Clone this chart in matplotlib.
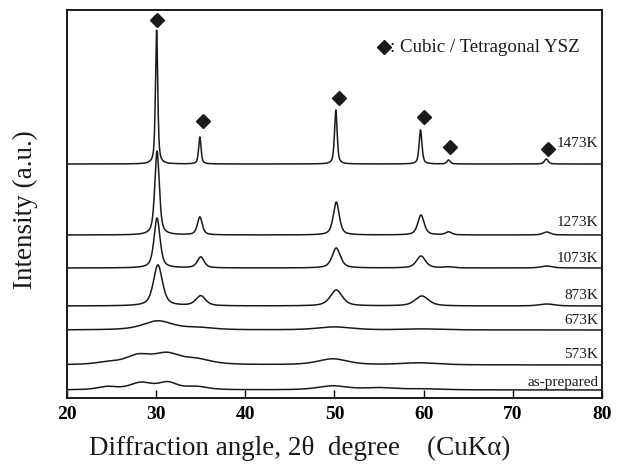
import numpy as np
import matplotlib
matplotlib.use("Agg")
import matplotlib.pyplot as plt

# ---- data (intensities in arbitrary units) ----
samples = ["as-prepared", "573K", "673K", "873K", "1073K", "1273K", "1473K"]
offsets = [8, 33, 68, 92, 130, 163, 234]

# peak positions (2θ), heights (a.u.), FWHM (deg)
pk_pos = {
    "as-prepared": [24.5, 28.3, 31.3, 34.5, 49.8, 55.0, 60.0],
    "573K":        [24.5, 28.0, 31.2, 34.5, 49.8, 59.5],
    "673K":        [30.2, 34.8, 50.0, 59.8],
    "873K":        [30.2, 35.0, 50.2, 59.8, 73.8],
    "1073K":       [30.1, 35.0, 50.2, 59.7, 62.8, 73.8],
    "1273K":       [30.1, 34.9, 50.2, 59.7, 62.8, 73.8],
    "1473K":       [30.05, 34.9, 50.15, 59.65, 62.8, 73.75],
}
pk_height = {
    "as-prepared": [3, 7, 7, 3, 4, 2, 1],
    "573K":        [2, 9, 10, 5, 6, 2],
    "673K":        [9, 2, 3, 1],
    "873K":        [41, 10, 16, 10, 2],
    "1073K":       [50, 11, 20, 12, 1, 2],
    "1273K":       [84, 18, 33, 20, 3, 3],
    "1473K":       [134, 27, 54, 34, 4, 5],
}
pk_width = {
    "as-prepared": [2.5, 3.0, 2.5, 3.0, 4.0, 4.0, 5.0],
    "573K":        [3.0, 3.5, 3.5, 4.0, 4.0, 5.0],
    "673K":        [4.0, 4.0, 4.5, 5.0],
    "873K":        [1.2, 1.3, 1.6, 1.8, 2.0],
    "1073K":       [0.8, 0.9, 1.1, 1.2, 1.2, 1.5],
    "1273K":       [0.6, 0.65, 0.8, 0.85, 0.8, 1.0],
    "1473K":       [0.3, 0.32, 0.35, 0.38, 0.45, 0.5],
}

label_y = {"as-prepared": 15, "573K": 43, "673K": 77, "873K": 102,
           "1073K": 140, "1273K": 176, "1473K": 255}

marker_x = [30.1, 35.2, 50.5, 60.0, 62.9, 73.9]
marker_y = [378, 277, 300, 281, 251, 249]

legend_text = ": Cubic / Tetragonal YSZ"

x = np.linspace(20, 80, 3000)


def profile(pos, hts, wids):
    y = np.zeros_like(x)
    for p, h, w in zip(pos, hts, wids):
        g = w / 2.0
        y += h * (0.6 * g**2 / ((x - p) ** 2 + g**2)
                  + 0.4 * np.exp(-4 * np.log(2) * (x - p) ** 2 / w**2))
    return y


plt.rcParams['font.family'] = ['Liberation Serif', 'DejaVu Serif']

fig = plt.figure(figsize=(6.23, 4.70), dpi=100)
ax = fig.add_axes([0.1075, 0.1532, 0.8588, 0.8255])

ink = '#1a1a1a'
for s, off in zip(samples, offsets):
    ax.plot(x, off + profile(pk_pos[s], pk_height[s], pk_width[s]),
            color=ink, lw=1.1)
    ax.text(79.6, label_y[s], s, ha='right', va='center', fontsize=11,
            color=ink)

ax.plot(marker_x, marker_y, ls='none', marker='D', ms=7.5, color=ink)
ax.plot([55.55], [351], ls='none', marker='D', ms=7.5, color=ink)
ax.text(56.2, 351, legend_text, ha='left', va='center',
        fontsize=13.6, color=ink)

ax.set_xlim(20, 80)
ax.set_ylim(0, 388)
ax.set_xticks([20, 30, 40, 50, 60, 70, 80])
ax.set_yticks([])
ax.tick_params(axis='x', direction='in', length=6, width=1.0, pad=6,
               labelsize=14)
for lbl in ax.get_xticklabels():
    lbl.set_fontweight('bold')
for sp in ax.spines.values():
    sp.set_linewidth(1.4)
    sp.set_color(ink)

fig.text(300 / 623, 1 - 448 / 470, "Diffraction angle, 2θ  degree    (CuKα)",
         ha='center', va='center', fontsize=19.5, color=ink)
fig.text(25 / 623, 1 - 210 / 470, "Intensity (a.u.)", rotation=90,
         ha='center', va='center', fontsize=19.5, color=ink)

fig.savefig("out.png", dpi=100)
